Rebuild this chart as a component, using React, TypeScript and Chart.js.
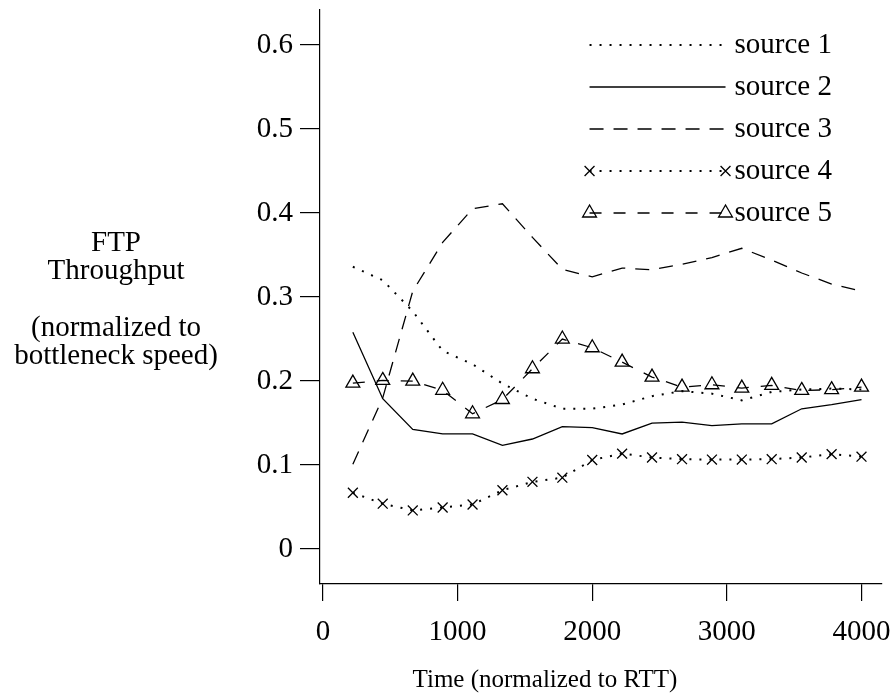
import React, { useEffect, useRef } from 'react';
import { Chart, registerables } from 'chart.js';

Chart.register(...registerables);

const times = [222, 444, 667, 889, 1111, 1333, 1556, 1778, 2000, 2222, 2444, 2667, 2889, 3111, 3333, 3556, 3778, 4000];
const source1 = [0.336, 0.32, 0.283, 0.236, 0.22, 0.197, 0.179, 0.167, 0.167, 0.172, 0.182, 0.188, 0.185, 0.177, 0.187, 0.19, 0.191, 0.19];
const source2 = [0.258, 0.179, 0.1425, 0.137, 0.137, 0.1235, 0.131, 0.1457, 0.1445, 0.137, 0.15, 0.151, 0.147, 0.149, 0.149, 0.167, 0.172, 0.178];
const source3 = [0.101, 0.18, 0.307, 0.365, 0.405, 0.411, 0.371, 0.333, 0.324, 0.3345, 0.3325, 0.339, 0.347, 0.358, 0.344, 0.3286, 0.3155, 0.307];
const source4 = [0.067, 0.054, 0.046, 0.0495, 0.053, 0.07, 0.08, 0.085, 0.106, 0.1136, 0.109, 0.107, 0.1065, 0.1065, 0.107, 0.109, 0.113, 0.11];
const source5 = [0.1975, 0.2007, 0.1999, 0.189, 0.161, 0.178, 0.2146, 0.25, 0.2396, 0.2225, 0.2047, 0.1928, 0.1956, 0.1916, 0.1948, 0.1888, 0.1897, 0.1928];
const seriesNames = ['source 1', 'source 2', 'source 3', 'source 4', 'source 5'];
const xTicks = [0, 1000, 2000, 3000, 4000];
const yTicks = [0, 0.1, 0.2, 0.3, 0.4, 0.5, 0.6];
const yTitleLines = ['FTP', 'Throughput', '', '(normalized to', 'bottleneck speed)'];
const xTitle = 'Time (normalized to RTT)';

const FONT = '"Liberation Serif", "Times New Roman", serif';
const BIG = 29;

function drawMarker(ctx: CanvasRenderingContext2D, style: string, x: number, y: number, r: number) {
  ctx.save();
  ctx.setLineDash([]);
  ctx.lineWidth = 1.3;
  ctx.strokeStyle = '#000';
  ctx.beginPath();
  if (style === 'crossRot') {
    const d = r * Math.SQRT1_2;
    ctx.moveTo(x - d, y - d);
    ctx.lineTo(x + d, y + d);
    ctx.moveTo(x - d, y + d);
    ctx.lineTo(x + d, y - d);
  } else if (style === 'triangle') {
    const a = Math.PI / 2;
    for (let i = 0; i < 3; i++) {
      const ang = a + (i * 2 * Math.PI) / 3;
      const px = x + Math.cos(ang) * r;
      const py = y - Math.sin(ang) * r;
      if (i === 0) ctx.moveTo(px, py);
      else ctx.lineTo(px, py);
    }
    ctx.closePath();
  }
  ctx.stroke();
  ctx.restore();
}

const textPlugin = {
  id: 'customText',
  afterDraw(chart: any) {
    const ctx: CanvasRenderingContext2D = chart.ctx;
    const xs = chart.scales.x;
    const ys = chart.scales.y;
    ctx.save();
    ctx.fillStyle = '#000';
    ctx.textAlign = 'center';
    ctx.textBaseline = 'middle';
    // y title (horizontal lines)
    ctx.font = `${BIG}px ${FONT}`;
    const yStart = 243;
    const yStep = 28.3;
    yTitleLines.forEach((line, i) => {
      if (line) ctx.fillText(line, 116, yStart + i * yStep);
    });
    // x title
    ctx.font = `25px ${FONT}`;
    ctx.fillText(xTitle, 545, 680);

    // legend
    ctx.font = `${BIG}px ${FONT}`;
    const x0 = xs.getPixelForValue(1980);
    const x1 = xs.getPixelForValue(2990);
    chart.data.datasets.forEach((ds: any, i: number) => {
      const y = ys.getPixelForValue(0.6 - i * 0.05);
      ctx.save();
      ctx.strokeStyle = '#000';
      ctx.lineWidth = ds.borderWidth;
      ctx.setLineDash(ds.borderDash || []);
      ctx.beginPath();
      ctx.moveTo(x0, y);
      ctx.lineTo(x1, y);
      ctx.stroke();
      ctx.restore();
      if (ds.pointRadius > 0) {
        drawMarker(ctx, ds.pointStyle, x0, y, ds.pointRadius);
        drawMarker(ctx, ds.pointStyle, x1, y, ds.pointRadius);
      }
      ctx.textAlign = 'left';
      ctx.fillText(seriesNames[i], x1 + 9, y);
    });
    ctx.restore();
  },
};

export default function App() {
  const ref = useRef<HTMLCanvasElement | null>(null);
  useEffect(() => {
    document.body.style.margin = '0';
    const canvas = ref.current!;
    const mk = (arr: number[]) => times.map((t, i) => ({ x: t, y: arr[i] }));
    const chart = new Chart(canvas, {
      type: 'line',
      data: {
        datasets: [
          { label: seriesNames[0], data: mk(source1), borderColor: '#000', borderWidth: 2, borderDash: [2, 8], pointRadius: 0, pointStyle: 'circle', fill: false },
          { label: seriesNames[1], data: mk(source2), borderColor: '#000', borderWidth: 1.3, borderDash: [], pointRadius: 0, pointStyle: 'circle', fill: false },
          { label: seriesNames[2], data: mk(source3), borderColor: '#000', borderWidth: 1.3, borderDash: [14, 10], pointRadius: 0, pointStyle: 'circle', fill: false },
          { label: seriesNames[3], data: mk(source4), borderColor: '#000', borderWidth: 2, borderDash: [2, 8], pointRadius: 7, pointStyle: 'crossRot', pointBorderColor: '#000', pointBorderWidth: 1.3, pointBackgroundColor: 'transparent', fill: false },
          { label: seriesNames[4], data: mk(source5), borderColor: '#000', borderWidth: 1.3, borderDash: [12, 12], pointRadius: 8, pointStyle: 'triangle', pointBorderColor: '#000', pointBorderWidth: 1.3, pointBackgroundColor: 'transparent', fill: false },
        ] as any,
      },
      options: {
        animation: false,
        responsive: false,
        devicePixelRatio: 1,
        layout: { padding: { top: 8, right: 6, left: 0, bottom: 0 } },
        elements: { line: { tension: 0 } },
        plugins: { legend: { display: false }, tooltip: { enabled: false } },
        scales: {
          x: {
            type: 'linear',
            min: -22,
            max: 4150,
            afterBuildTicks: (s: any) => { s.ticks = xTicks.map((v) => ({ value: v })); },
            afterFit: (s: any) => { s.height = 114; s.paddingLeft = 0; s.paddingRight = 0; },
            grid: { display: true, drawOnChartArea: false, drawTicks: true, tickLength: 17, color: '#000', lineWidth: 1.2 },
            border: { display: true, color: '#000', width: 1.2 },
            ticks: { color: '#000', font: { family: FONT, size: BIG }, padding: 14, maxRotation: 0, callback: (v: any) => String(v) },
          },
          y: {
            type: 'linear',
            min: -0.0416,
            max: 0.6425,
            afterBuildTicks: (s: any) => { s.ticks = yTicks.map((v) => ({ value: v })); },
            afterFit: (s: any) => { s.width = 320; s.paddingTop = 0; s.paddingBottom = 0; },
            grid: { display: true, drawOnChartArea: false, drawTicks: true, tickLength: 20, color: '#000', lineWidth: 1.2 },
            border: { display: true, color: '#000', width: 1.2 },
            ticks: { color: '#000', font: { family: FONT, size: BIG }, padding: 7, callback: (v: any) => String(Math.round(v * 10) / 10) },
          },
        },
      } as any,
      plugins: [textPlugin],
    });
    return () => chart.destroy();
  }, []);
  return (
    <div style={{ position: 'fixed', left: 0, top: 0, width: 891, height: 698, background: '#fff' }}>
      <canvas ref={ref} width={891} height={698} style={{ display: 'block', width: 891, height: 698 }} />
    </div>
  );
}
